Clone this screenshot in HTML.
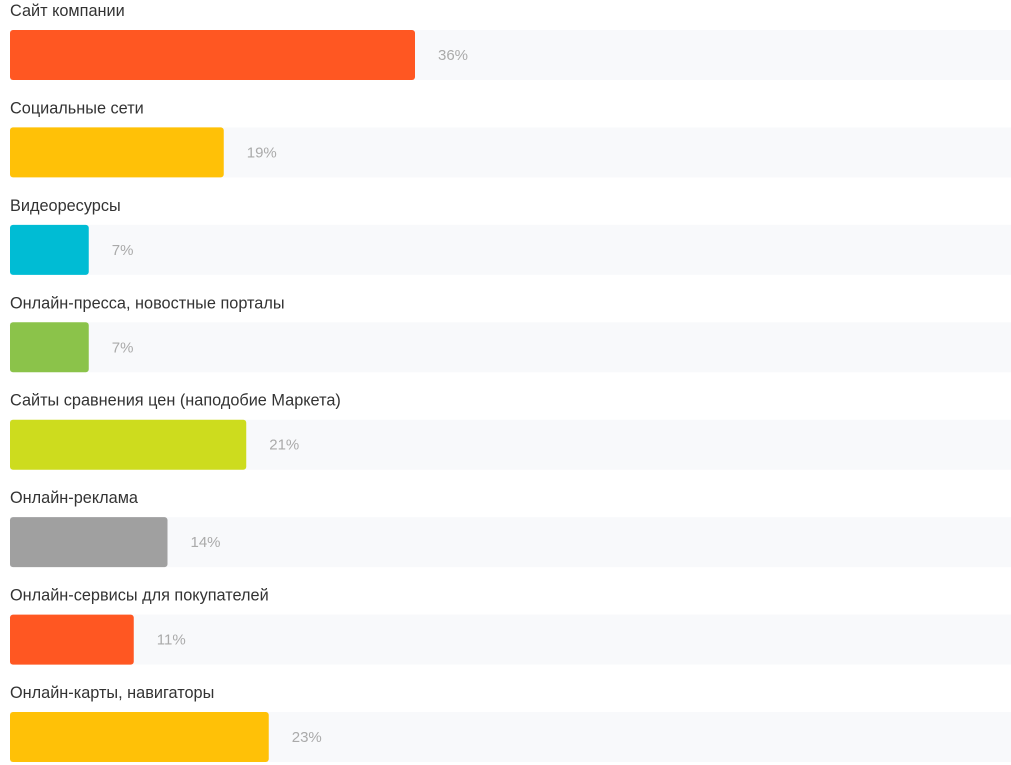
<!DOCTYPE html>
<html><head><meta charset="utf-8">
<style>
body{margin:0;width:1011px;height:765px;background:#fff;font-family:"Liberation Sans",sans-serif;overflow:hidden}
svg{display:block}
</style></head>
<body>
<svg id="chart" width="1011" height="765"></svg>
<script>
const categories=["Сайт компании","Социальные сети","Видеоресурсы","Онлайн-пресса, новостные порталы","Сайты сравнения цен (наподобие Маркета)","Онлайн-реклама","Онлайн-сервисы для покупателей","Онлайн-карты, навигаторы"];
const values=[36,19,7,7,21,14,11,23];
const colors=["#ff5722","#ffc107","#00bcd4","#8bc34a","#cddc1e","#a0a0a0","#ff5722","#ffc107"];
const svg=document.getElementById('chart');
const NS="http://www.w3.org/2000/svg";
const x0=10,perPct=11.25,top0=30,pitch=97.43,barH=50;
function xScale(v){return v*perPct;}
function mk(t,a){const e=document.createElementNS(NS,t);for(const k in a)e.setAttribute(k,a[k]);return e;}
categories.forEach((c,i)=>{
  const y=top0+i*pitch;
  const g=mk('g',{});
  
  
  const lab=mk('text',{x:10,y:y-14,'font-size':16.3,fill:'#333'});
  
  
  lab.textContent=c;g.appendChild(lab);
  const tr=mk('rect',{x:x0,y:y,width:1011-x0,height:barH,fill:'#f8f9fb'});
  
  
  g.appendChild(tr);
  const w=xScale(values[i]);
  const b=mk('rect',{x:x0,y:y,width:w,height:barH,rx:3,fill:colors[i]});
  
  
  g.appendChild(b);
  const v=mk('text',{x:x0+w+23,y:y+barH/2+5,'font-size':15,fill:'#aaa'});
  
  
  v.textContent=values[i]+'%';g.appendChild(v);
  svg.appendChild(g);
});
</script>
</body></html>
